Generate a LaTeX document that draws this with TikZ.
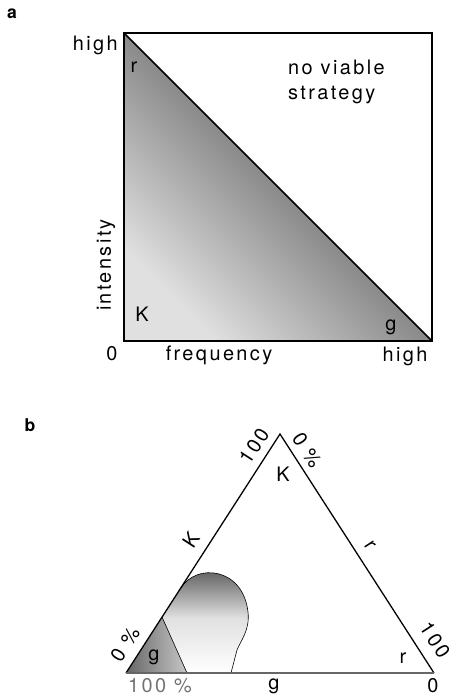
\documentclass[tikz,border=0pt]{standalone}
\usepackage{fontspec}
\setmainfont{TeX Gyre Heros}[LetterSpace=12]

\begin{document}
\begin{tikzpicture}[x=0.03cm,y=-0.03cm,
    lbl/.style={font=\fontsize{17}{21}\selectfont, inner sep=0pt},
    panel/.style={font=\fontsize{15}{18}\selectfont\bfseries, inner sep=0pt}]
  \useasboundingbox (0,0) rectangle (453,698);
  % a: intensity against frequency
  \coordinate (tl) at (124,33);
  \coordinate (tr) at (432,33);
  \coordinate (bl) at (124,341);
  \coordinate (br) at (432,341);
  \shade[top color=black!80, bottom color=black!12, shading angle=-45] (tl) -- (br) -- (bl) -- cycle;
  \draw[line width=1.6pt] (tl) rectangle (br);
  \draw[line width=1.4pt] (tl) -- (br);
  \node[panel] (la) at (12,14) {a};
  \node[lbl,anchor=east] (yhigh) at (118,45) {high};
  \node[lbl] (ra) at (134,67) {r};
  \node[lbl,anchor=north west,align=left] (nv) at (288,60) {no viable\\strategy};
  \node[lbl,rotate=90] (int) at (106,265) {intensity};
  \node[lbl] (ka) at (142,314) {K};
  \node[lbl] (ga) at (391,327) {g};
  \node[lbl] (zero) at (112,354) {0};
  \node[lbl] (freq) at (219,355) {frequency};
  \node[lbl] (xhigh) at (405,356) {high};
  % b: triangle of strategies
  \coordinate (apex) at (280,434);
  \coordinate (lc) at (126,673);
  \coordinate (rc) at (434,673);
  \shade[top color=black!70, bottom color=white, middle color=black!12]
    (181,588) .. controls (196,563) and (243,567) .. (248,612)
    .. controls (250,630) and (241,640) .. (237,650) -- (231,673)
    -- (lc) -- cycle;
  \shade[left color=black!60, right color=black!22]
    (162,617) -- (187,673) -- (lc) -- cycle;
  \draw[line width=0.5pt]
    (181,588) .. controls (196,563) and (243,567) .. (248,612)
    .. controls (250,630) and (241,640) .. (237,650) -- (231,673);
  \draw[line width=0.5pt] (162,617) -- (187,673);
  \draw[line width=1.1pt] (lc) -- (apex) -- (rc);
  \draw[line width=1.1pt,black!60] (lc) -- (rc);
  \node[panel] (lb) at (30,425) {b};
  \node[lbl,rotate=57] (k100) at (254,446) {100};
  \node[lbl,rotate=-57] (k0) at (307,450) {0 \%};
  \node[lbl] (kb) at (283,474) {K};
  \node[lbl,rotate=57] (kside) at (191,540) {K};
  \node[lbl,rotate=-57] (rside) at (370,545) {r};
  \node[lbl,rotate=-57] (r100) at (435,640) {100};
  \node[lbl] (rb) at (403,658) {r};
  \node[lbl] (r0) at (433,686) {0};
  \node[lbl] (gside) at (274,686) {g};
  \node[lbl,black!55] (g100) at (160,686) {100 \%};
  \node[lbl,rotate=57] (g0) at (125,644) {0 \%};
  \node[lbl] (gb) at (154,657) {g};
\end{tikzpicture}
\end{document}
